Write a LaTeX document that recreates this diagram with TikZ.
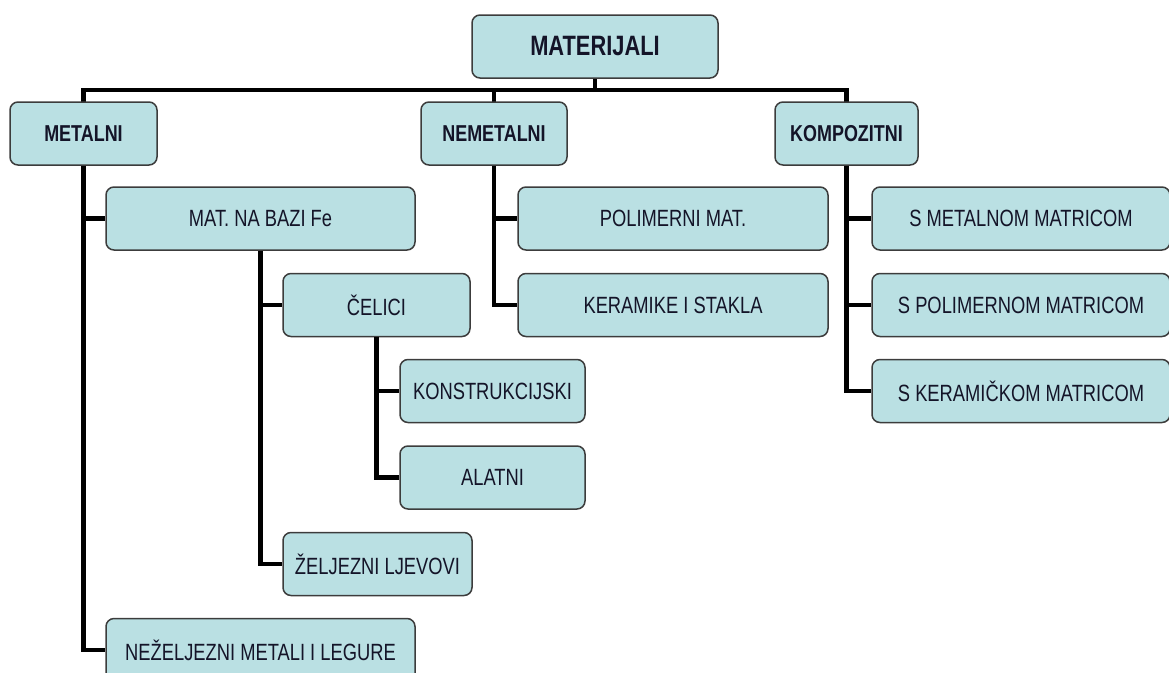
\documentclass[tikz,border=0pt]{standalone}
\usepackage{fontspec}
\setmainfont[FakeStretch=0.78]{Liberation Sans}
\usepackage{tikz}
\usetikzlibrary{positioning}
\definecolor{boxfill}{RGB}{186,224,227}
\definecolor{boxline}{RGB}{60,60,60}
\definecolor{boxtext}{RGB}{20,20,40}

\begin{document}
\begin{tikzpicture}[x=1pt, y=-1pt,
    box/.style={draw=boxline, line width=1.5pt, fill=boxfill, rounded corners=8pt, minimum height=63pt, inner sep=0pt, text=boxtext, font=\fontsize{23.5}{25}\selectfont},
    head/.style={box, font=\fontsize{23}{25}\selectfont\bfseries},
    link/.style={line width=4.5pt}]
    \clip (0,0) rectangle (1169,672);
    \coordinate (bar) at (595,90);
    \draw [link] (595,46.5) -- (bar);
    \draw [link] (bar) -| (83.5,133.5);
    \draw [link] (bar) -| (494,133.5);
    \draw [link] (bar) -| (846.5,133.5);
    \node [head, minimum width=246pt, font=\fontsize{28}{30}\selectfont\bfseries] (materijali) at (595,46.5) {MATERIJALI};
    \node [head, minimum width=147pt] (metalni) at (83.5,133.5) {METALNI};
    \node [head, minimum width=146pt] (nemetalni) at (494,133.5) {NEMETALNI};
    \node [head, minimum width=143pt] (kompozitni) at (846.5,133.5) {KOMPOZITNI};
    \node [box, minimum width=309pt] (bazife) at (260.5,218.5) {MAT. NA BAZI Fe};
    \node [box, minimum width=187pt] (celici) at (376.5,305) {ČELICI};
    \node [box, minimum width=185pt] (konstrukcijski) at (492.5,391) {KONSTRUKCIJSKI};
    \node [box, minimum width=185pt] (alatni) at (492.5,477.5) {ALATNI};
    \node [box, minimum width=189pt] (ljevovi) at (377.5,564) {ŽELJEZNI LJEVOVI};
    \node [box, minimum width=309pt] (nezeljezni) at (260.5,650) {NEŽELJEZNI METALI I LEGURE};
    \node [box, minimum width=310pt] (polimerni) at (673,218.5) {POLIMERNI MAT.};
    \node [box, minimum width=310pt] (keramike) at (673,305) {KERAMIKE I STAKLA};
    \node [box, minimum width=298pt] (smetal) at (1021,218.5) {S METALNOM MATRICOM};
    \node [box, minimum width=298pt] (spolimer) at (1021,305) {S POLIMERNOM MATRICOM};
    \node [box, minimum width=298pt] (skeramik) at (1021,391) {S KERAMIČKOM MATRICOM};
    \draw [link] (metalni.south) |- (bazife.west);
    \draw [link] (metalni.south) |- (nezeljezni.west);
    \draw [link] (bazife.south) |- (celici.west);
    \draw [link] (bazife.south) |- (ljevovi.west);
    \draw [link] (celici.south) |- (konstrukcijski.west);
    \draw [link] (celici.south) |- (alatni.west);
    \draw [link] (nemetalni.south) |- (polimerni.west);
    \draw [link] (nemetalni.south) |- (keramike.west);
    \draw [link] (kompozitni.south) |- (smetal.west);
    \draw [link] (kompozitni.south) |- (spolimer.west);
    \draw [link] (kompozitni.south) |- (skeramik.west);
\end{tikzpicture}
\end{document}
